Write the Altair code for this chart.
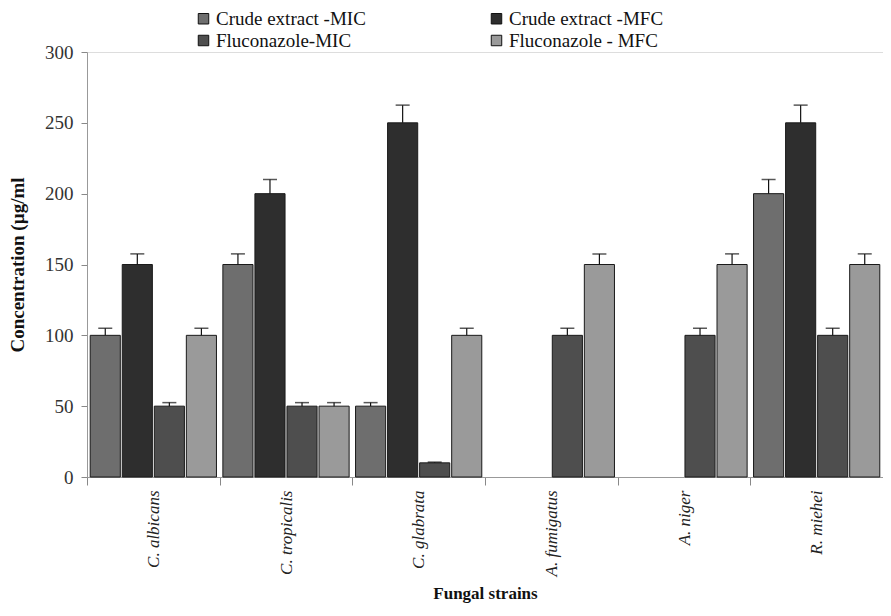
import altair as alt
import pandas as pd

strains = ["C. albicans", "C. tropicalis", "C. glabrata", "A. fumigatus", "A. niger", "R. miehei"]
series = ["Crude extract -MIC", "Crude extract -MFC", "Fluconazole-MIC", "Fluconazole - MFC"]
crude_mic = [100, 150, 50, 0, 0, 200]
crude_mfc = [150, 200, 250, 0, 0, 250]
fluc_mic = [50, 50, 10, 100, 100, 100]
fluc_mfc = [100, 50, 100, 150, 150, 150]
err_crude_mic = [5, 7.5, 2.5, 0, 0, 10]
err_crude_mfc = [7.5, 10, 12.5, 0, 0, 12.5]
err_fluc_mic = [2.5, 2.5, 0.5, 5, 5, 5]
err_fluc_mfc = [5, 2.5, 5, 7.5, 7.5, 7.5]
colors = ["#6e6e6e", "#2e2e2e", "#4e4e4e", "#9a9a9a"]

vals = [crude_mic, crude_mfc, fluc_mic, fluc_mfc]
errs = [err_crude_mic, err_crude_mfc, err_fluc_mic, err_fluc_mfc]
rows = []
for si, s in enumerate(series):
    for ci, st in enumerate(strains):
        v = vals[si][ci]
        rows.append({"strain": st, "series": s, "value": v, "upper": v + errs[si][ci]})
df = pd.DataFrame(rows)

serif = "Liberation Serif"
x = alt.X("strain:N", sort=strains, title="Fungal strains",
          scale=alt.Scale(paddingInner=0, paddingOuter=0),
          axis=alt.Axis(labelAngle=-90, labelFont=serif, labelFontStyle="italic",
                        labelFontSize=17, labelColor="#222", labelPadding=5,
                        tickBand="extent", tickSize=8, tickColor="#888",
                        domainColor="#999", titleFont=serif, titleFontWeight="bold",
                        titleFontSize=17, titleColor="#111", titlePadding=10,
                        labelBaseline="middle", labelAlign="right"))
xo = alt.XOffset("series:N", sort=series,
                 scale=alt.Scale(paddingInner=0.06, paddingOuter=0.1))
y = alt.Y("value:Q", title="Concentration (µg/ml",
          scale=alt.Scale(domain=[0, 300]),
          axis=alt.Axis(values=[0, 50, 100, 150, 200, 250, 300], grid=False,
                        labelFont=serif, labelFontSize=19, labelColor="#333",
                        tickSize=6, tickColor="#888", domainColor="#999",
                        labelPadding=8, titleFont=serif, titleFontWeight="bold",
                        titleFontSize=19, titleColor="#111", titlePadding=17))

base = alt.Chart(df)
bars = base.transform_filter("datum.value > 0").mark_bar(
    stroke="#1a1a1a", strokeWidth=1).encode(
    x=x, xOffset=xo, y=y,
    color=alt.Color("series:N", sort=series,
                    scale=alt.Scale(domain=series, range=colors),
                    legend=alt.Legend(title=None, orient="none", legendX=107, legendY=-43,
                                      columns=2, columnPadding=121, rowPadding=2,
                                      symbolType="square", symbolSize=110,
                                      symbolStrokeColor="#111", symbolStrokeWidth=1,
                                      labelOffset=3,
                                      labelFont=serif, labelFontSize=19, labelColor="#111",
                                      labelLimit=300, direction="horizontal"))
)
rules = base.transform_filter("datum.value > 0").mark_rule(color="#111", strokeWidth=1.2).encode(
    x=x, xOffset=xo, y="value:Q", y2="upper:Q")
caps = base.transform_filter("datum.value > 0").mark_tick(
    color="#111", thickness=1.5, size=14, orient="horizontal").encode(
    x=x, xOffset=xo, y="upper:Q")

chart = alt.layer(bars, rules, caps).properties(
    width=796, height=425,
    autosize=alt.AutoSizeParams(type="none"),
    padding={"left": 79, "top": 44, "right": 0, "bottom": 131},
).configure_view(stroke=None).configure(background="white")

chart.save("out.html", embed_options={"renderer": "svg", "actions": False})
